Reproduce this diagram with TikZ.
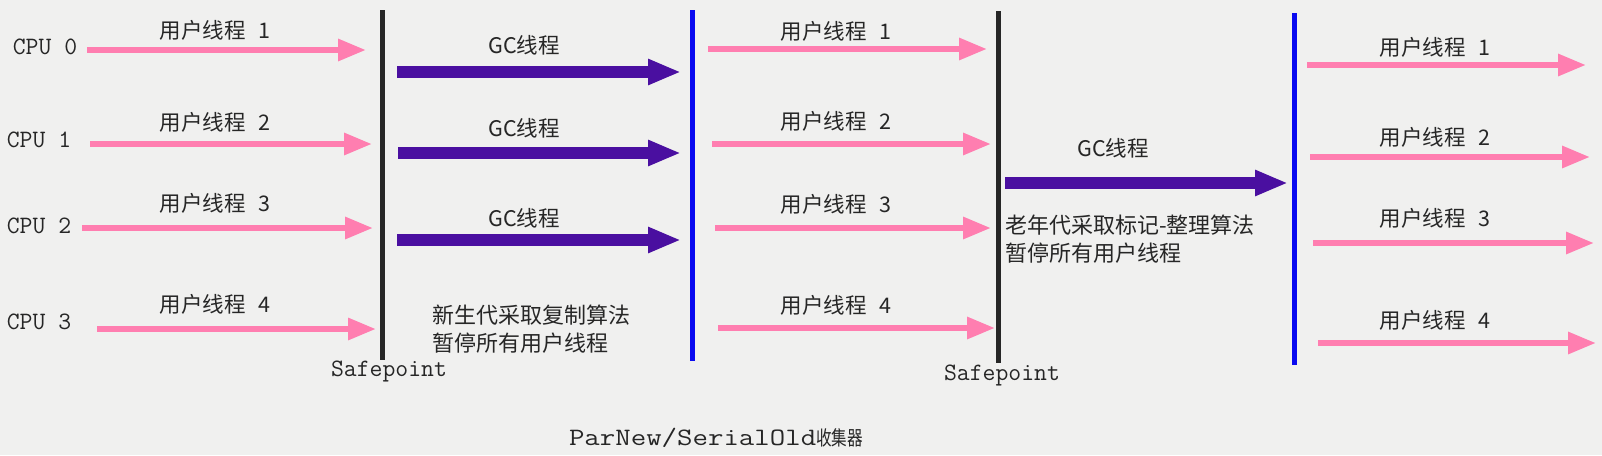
\documentclass[tikz,border=0pt]{standalone}
\usepackage{fontspec}
\usepackage{graphicx}
\setmainfont{Noto Sans CJK SC}
\newfontfamily\monof{Latin Modern Mono}
\usetikzlibrary{arrows.meta}
\definecolor{bg}{HTML}{F0F0EF}
\definecolor{upink}{HTML}{FF7EB0}
\definecolor{gcpurple}{HTML}{4A0FA0}
\definecolor{sblue}{HTML}{0A0AF0}
\definecolor{sblack}{HTML}{262626}
\tikzset{
  userarrow/.style={draw=upink, line width=6pt, -{Triangle[length=28pt,width=21pt]}},
  gcarrow/.style={draw=gcpurple, line width=12pt, -{Triangle[length=33pt,width=24pt]}},
  safeline/.style={draw=sblack, line width=5pt},
  stopline/.style={draw=sblue, line width=5pt},
  lbl/.style={inner sep=0pt, text=black!85, font=\fontsize{21.5}{25}\selectfont},
  mono/.style={inner sep=0pt, text=black!85, font=\monof\fontsize{25}{28}\selectfont},
  note/.style={inner sep=0pt, text=black!85, align=left, anchor=west, font=\fontsize{22}{28}\selectfont}
}
\newcommand{\ut}[1]{用户线程\hspace{0.6em}#1}
\begin{document}
\begin{tikzpicture}[x=1pt,y=-1pt]
\fill[bg] (0,0) rectangle (1602,455);
\useasboundingbox (0,0) rectangle (1602,455);

% vertical lines
\coordinate (s1t) at (382,10); \coordinate (s1b) at (382,360);
\coordinate (b1t) at (692,10); \coordinate (b1b) at (692,361);
\coordinate (s2t) at (998,11); \coordinate (s2b) at (998,363);
\coordinate (b2t) at (1294,13); \coordinate (b2b) at (1294,365);
\draw[safeline] (s1t) -- (s1b);
\draw[stopline] (b1t) -- (b1b);
\draw[safeline] (s2t) -- (s2b);
\draw[stopline] (b2t) -- (b2b);

% CPU labels
\node[mono] (cpu0) at (45,47) {CPU 0};
\node[mono] (cpu1) at (39,140) {CPU 1};
\node[mono] (cpu2) at (39,226) {CPU 2};
\node[mono] (cpu3) at (39,322) {CPU 3};

% section 1 user arrows
\coordinate (a1s) at (87,50);  \coordinate (a1e) at (366,50);
\coordinate (a2s) at (90,144); \coordinate (a2e) at (372,144);
\coordinate (a3s) at (82,228); \coordinate (a3e) at (373,228);
\coordinate (a4s) at (97,329); \coordinate (a4e) at (376,329);
\draw[userarrow] (a1s) -- (a1e);
\draw[userarrow] (a2s) -- (a2e);
\draw[userarrow] (a3s) -- (a3e);
\draw[userarrow] (a4s) -- (a4e);
\node[lbl] (u11) at (215,30) {\ut{1}};
\node[lbl] (u12) at (215,122) {\ut{2}};
\node[lbl] (u13) at (215,203) {\ut{3}};
\node[lbl] (u14) at (215,304) {\ut{4}};

% section 1 GC arrows
\coordinate (g1s) at (397,72);  \coordinate (g1e) at (681,72);
\coordinate (g2s) at (398,153); \coordinate (g2e) at (681,153);
\coordinate (g3s) at (397,240); \coordinate (g3e) at (681,240);
\draw[gcarrow] (g1s) -- (g1e);
\draw[gcarrow] (g2s) -- (g2e);
\draw[gcarrow] (g3s) -- (g3e);
\node[lbl] (gc1) at (524,45) {GC线程};
\node[lbl] (gc2) at (524,128) {GC线程};
\node[lbl] (gc3) at (524,218) {GC线程};
\node[note] (n1) at (432,329) {新生代采取复制算法\\暂停所有用户线程};
\node[mono] (sp1) at (389,371) {Safepoint};

% section 2 user arrows
\coordinate (b1s) at (708,49);  \coordinate (b1e) at (987,49);
\coordinate (b2s) at (712,144); \coordinate (b2e) at (991,144);
\coordinate (b3s) at (715,228); \coordinate (b3e) at (991,228);
\coordinate (b4s) at (718,328); \coordinate (b4e) at (995,328);
\draw[userarrow] (b1s) -- (b1e);
\draw[userarrow] (b2s) -- (b2e);
\draw[userarrow] (b3s) -- (b3e);
\draw[userarrow] (b4s) -- (b4e);
\node[lbl] (u21) at (836,31) {\ut{1}};
\node[lbl] (u22) at (836,121) {\ut{2}};
\node[lbl] (u23) at (836,204) {\ut{3}};
\node[lbl] (u24) at (836,305) {\ut{4}};

% section 2 GC arrow
\coordinate (h1s) at (1005,183); \coordinate (h1e) at (1288,183);
\draw[gcarrow] (h1s) -- (h1e);
\node[lbl] (gc4) at (1113,148) {GC线程};
\node[note] (n2) at (1005,239) {老年代采取标记-整理算法\\暂停所有用户线程};
\node[mono] (sp2) at (1002,375) {Safepoint};

% section 3 user arrows
\coordinate (c1s) at (1307,65);  \coordinate (c1e) at (1586,65);
\coordinate (c2s) at (1310,157); \coordinate (c2e) at (1590,157);
\coordinate (c3s) at (1313,243); \coordinate (c3e) at (1594,243);
\coordinate (c4s) at (1318,343); \coordinate (c4e) at (1596,343);
\draw[userarrow] (c1s) -- (c1e);
\draw[userarrow] (c2s) -- (c2e);
\draw[userarrow] (c3s) -- (c3e);
\draw[userarrow] (c4s) -- (c4e);
\node[lbl] (u31) at (1435,47) {\ut{1}};
\node[lbl] (u32) at (1435,137) {\ut{2}};
\node[lbl] (u33) at (1435,218) {\ut{3}};
\node[lbl] (u34) at (1435,320) {\ut{4}};

% title
\node[inner sep=0pt, text=black!85] (title) at (716,438) {\scalebox{1.2}[1]{\monof\fontsize{25}{28}\selectfont ParNew/SerialOld}\scalebox{0.78}[1]{\fontsize{20}{24}\selectfont 收集器}};
\end{tikzpicture}
\end{document}
